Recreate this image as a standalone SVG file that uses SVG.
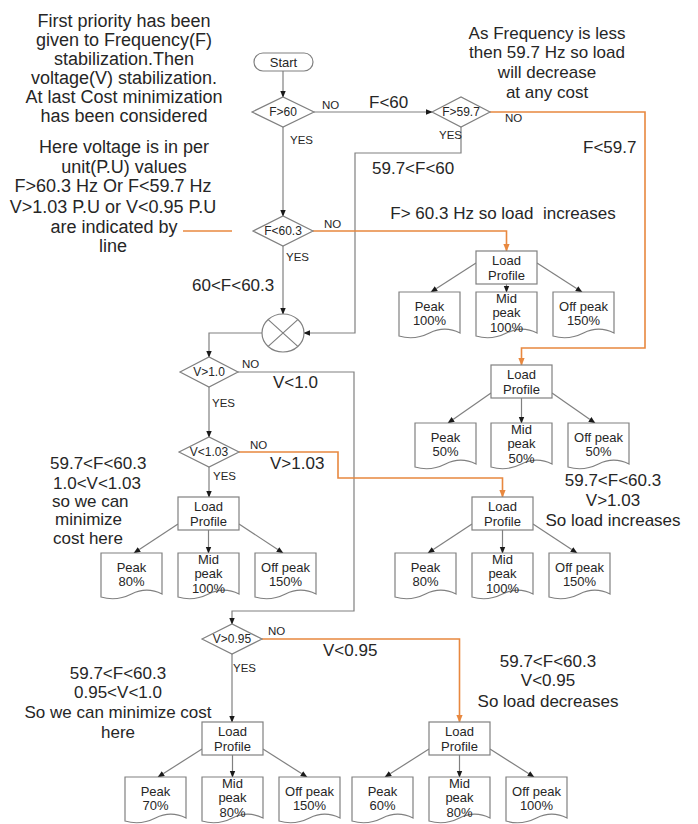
<svg xmlns="http://www.w3.org/2000/svg" width="698" height="824" viewBox="0 0 698 824">
<defs>
<style>
text{font-family:"Liberation Sans",Arial,sans-serif;fill:#262626}
.c{text-anchor:middle}
.big{font-size:18px}
.ann{font-size:17px}
.lbl{font-size:17px}
.sm{font-size:11.5px}
.dt{font-size:12px}
.bt{font-size:13px}
.shape{fill:#fff;stroke:#808080;stroke-width:1.2}
.g{fill:none;stroke:#808080;stroke-width:1.2}
.ga{fill:none;stroke:#808080;stroke-width:1.2;marker-end:url(#ag)}
.oa{fill:none;stroke:#E8883F;stroke-width:1.6;marker-end:url(#ao)}
.o{fill:none;stroke:#E8883F;stroke-width:1.6}
</style>
<marker id="ag" viewBox="0 0 10 10" refX="9" refY="5" markerWidth="7" markerHeight="7" markerUnits="userSpaceOnUse" orient="auto"><path d="M0,1 L10,5 L0,9 z" fill="#1a1a1a"/></marker>
<marker id="ao" viewBox="0 0 10 10" refX="9" refY="5" markerWidth="8" markerHeight="8" markerUnits="userSpaceOnUse" orient="auto"><path d="M0,1 L10,5 L0,9 z" fill="#E8883F"/></marker>
<path id="doc" d="M0,0 h61 v41 c-10,-5 -20.5,-5 -30.5,0 s-20.5,6 -30.5,3 z"/>
</defs>
<rect width="698" height="824" fill="#fff"/>

<g id="notes">
<text class="big c" x="124" y="27">First priority has been</text>
<text class="big c" x="124" y="46">given to Frequency(F)</text>
<text class="big c" x="124" y="65">stabilization.Then</text>
<text class="big c" x="124" y="84">voltage(V) stabilization.</text>
<text class="big c" x="124" y="103">At last Cost minimization</text>
<text class="big c" x="124" y="122">has been considered</text>
<text class="big c" x="124" y="153">Here voltage is in per</text>
<text class="big c" x="124" y="173">unit(P.U) values</text>
<text class="big c" x="113" y="192">F&gt;60.3 Hz Or F&lt;59.7 Hz</text>
<text class="big c" x="113" y="213">V&gt;1.03 P.U or V&lt;0.95 P.U</text>
<text class="big c" x="114" y="233">are indicated by</text>
<text class="big c" x="113" y="252">line</text>
<path class="o" d="M183,231 H232"/>
<text class="ann c" x="547" y="39">As Frequency is less</text>
<text class="ann c" x="547" y="58">then 59.7 Hz so load</text>
<text class="ann c" x="547" y="78">will decrease</text>
<text class="ann c" x="547" y="98">at any cost</text>
<text class="ann c" x="503" y="219" style="white-space:pre">F&gt; 60.3 Hz so load  increases</text>
<text class="ann" x="50" y="469">59.7&lt;F&lt;60.3</text>
<text class="ann" x="53" y="489">1.0&lt;V&lt;1.03</text>
<text class="ann" x="52" y="507">so we can</text>
<text class="ann" x="55" y="525">minimize</text>
<text class="ann" x="53" y="544">cost here</text>
<text class="ann c" x="613" y="486">59.7&lt;F&lt;60.3</text>
<text class="ann c" x="613" y="506">V&gt;1.03</text>
<text class="ann c" x="613" y="526">So load increases</text>
<text class="ann c" x="118" y="679">59.7&lt;F&lt;60.3</text>
<text class="ann c" x="118" y="698">0.95&lt;V&lt;1.0</text>
<text class="ann c" x="118" y="718">So we can minimize cost</text>
<text class="ann c" x="118" y="738">here</text>
<text class="ann c" x="548" y="667">59.7&lt;F&lt;60.3</text>
<text class="ann c" x="548" y="686">V&lt;0.95</text>
<text class="ann c" x="548" y="707">So load decreases</text>
</g>

<g id="connectors">
<path class="ga" d="M283,71 V97"/>
<path class="ga" d="M314,112 H432"/>
<path class="ga" d="M461,127 V153 H355 V333 H304"/>
<path class="oa" d="M490,112 H645 V348 H521.5 V365"/>
<path class="ga" d="M283,127 V216"/>
<path class="oa" d="M313,231 H506.5 V251"/>
<path class="ga" d="M283,246 V314"/>
<path class="ga" d="M262,333 H209 V357"/>
<path class="ga" d="M209,387 V437"/>
<path class="ga" d="M238,372 H354 V611 H232 V624"/>
<path class="oa" d="M239,452 H338 V478 H502.5 V497"/>
<path class="ga" d="M209,467 V497"/>
<path class="ga" d="M232,654 V722"/>
<path class="oa" d="M262,639 H459.5 V722"/>
<path class="ga" d="M476,263 L431,292"/><path class="ga" d="M506.5,284 V292"/><path class="ga" d="M537,263 L582,292"/>
<path class="ga" d="M491,393 L448,423"/><path class="ga" d="M521.5,398 V423"/><path class="ga" d="M552,393 L595,423"/>
<path class="ga" d="M178,524 L134,553"/><path class="ga" d="M208.5,530 V553"/><path class="ga" d="M239,524 L283,553"/>
<path class="ga" d="M472,524 L428,553"/><path class="ga" d="M502.5,530 V553"/><path class="ga" d="M533,524 L577,553"/>
<path class="ga" d="M202,749 L158,777"/><path class="ga" d="M232.5,755 V777"/><path class="ga" d="M263,749 L307,777"/>
<path class="ga" d="M429,749 L385,777"/><path class="ga" d="M459.5,755 V777"/><path class="ga" d="M490,749 L534,777"/>
<text class="sm" x="322" y="109">NO</text>
<text class="lbl" x="369" y="108">F&lt;60</text>
<text class="sm" x="290" y="144">YES</text>
<text class="sm" x="505" y="122">NO</text>
<text class="sm" x="439" y="139">YES</text>
<text class="lbl" x="583" y="153">F&lt;59.7</text>
<text class="lbl" x="372" y="174">59.7&lt;F&lt;60</text>
<text class="sm" x="324" y="228">NO</text>
<text class="sm" x="286" y="261">YES</text>
<text class="lbl" x="192" y="291">60&lt;F&lt;60.3</text>
<text class="sm" x="242" y="368">NO</text>
<text class="lbl" x="273" y="388">V&lt;1.0</text>
<text class="sm" x="212" y="407">YES</text>
<text class="sm" x="250" y="449">NO</text>
<text class="lbl" x="270" y="469">V&gt;1.03</text>
<text class="sm" x="213" y="480">YES</text>
<text class="sm" x="268" y="635">NO</text>
<text class="lbl" x="323" y="656">V&lt;0.95</text>
<text class="sm" x="233" y="672">YES</text>
</g>

<g id="start"><rect class="shape" x="254" y="53" width="59" height="18" rx="9"/><text class="bt c" x="283.5" y="66.5">Start</text></g>
<g id="f60"><polygon class="shape" points="252,112 283,97 314,112 283,127"/><text class="dt c" x="283" y="116">F&gt;60</text></g>
<g id="f597"><polygon class="shape" points="432,112 461,97 490,112 461,127"/><text class="dt c" x="461" y="116">F&gt;59.7</text></g>
<g id="f603"><polygon class="shape" points="253,231 283,216 313,231 283,246"/><text class="dt c" x="283" y="235">F&lt;60.3</text></g>
<g id="junction"><ellipse class="shape" cx="283" cy="333" rx="21" ry="19"/><path class="g" d="M268.2,319.6 L297.8,346.4 M297.8,319.6 L268.2,346.4"/></g>
<g id="v10"><polygon class="shape" points="180,372 209,357 238,372 209,387"/><text class="dt c" x="209" y="376">V&gt;1.0</text></g>
<g id="v103"><polygon class="shape" points="179,452 209,437 239,452 209,467"/><text class="dt c" x="209" y="456">V&lt;1.03</text></g>
<g id="v095"><polygon class="shape" points="202,639 232,624 262,639 232,654"/><text class="dt c" x="232" y="643">V&gt;0.95</text></g>

<g id="lpA">
<rect class="shape" x="476" y="251" width="61" height="33"/><text class="bt c" x="506.5" y="264.5">Load</text><text class="bt c" x="506.5" y="279.5">Profile</text>
<use href="#doc" class="shape" x="399" y="292"/><text class="bt c" x="429.5" y="310.5">Peak</text><text class="bt c" x="429.5" y="325">100%</text>
<use href="#doc" class="shape" x="476" y="292"/><text class="bt c" x="506.5" y="302.5">Mid</text><text class="bt c" x="506.5" y="317">peak</text><text class="bt c" x="506.5" y="331.5">100%</text>
<use href="#doc" class="shape" x="553" y="292"/><text class="bt c" x="583.5" y="310.5">Off peak</text><text class="bt c" x="583.5" y="325">150%</text>
</g>
<g id="lpB">
<rect class="shape" x="491" y="365" width="61" height="33"/><text class="bt c" x="521.5" y="378.5">Load</text><text class="bt c" x="521.5" y="393.5">Profile</text>
<use href="#doc" class="shape" x="415" y="423"/><text class="bt c" x="445.5" y="441.5">Peak</text><text class="bt c" x="445.5" y="456">50%</text>
<use href="#doc" class="shape" x="491" y="423"/><text class="bt c" x="521.5" y="433.5">Mid</text><text class="bt c" x="521.5" y="448">peak</text><text class="bt c" x="521.5" y="462.5">50%</text>
<use href="#doc" class="shape" x="568" y="423"/><text class="bt c" x="598.5" y="441.5">Off peak</text><text class="bt c" x="598.5" y="456">50%</text>
</g>
<g id="lpC">
<rect class="shape" x="178" y="497" width="61" height="33"/><text class="bt c" x="208.5" y="510.5">Load</text><text class="bt c" x="208.5" y="525.5">Profile</text>
<use href="#doc" class="shape" x="101" y="553"/><text class="bt c" x="131.5" y="571.5">Peak</text><text class="bt c" x="131.5" y="586">80%</text>
<use href="#doc" class="shape" x="178" y="553"/><text class="bt c" x="208.5" y="563.5">Mid</text><text class="bt c" x="208.5" y="578">peak</text><text class="bt c" x="208.5" y="592.5">100%</text>
<use href="#doc" class="shape" x="255" y="553"/><text class="bt c" x="285.5" y="571.5">Off peak</text><text class="bt c" x="285.5" y="586">150%</text>
</g>
<g id="lpD">
<rect class="shape" x="472" y="497" width="61" height="33"/><text class="bt c" x="502.5" y="510.5">Load</text><text class="bt c" x="502.5" y="525.5">Profile</text>
<use href="#doc" class="shape" x="395" y="553"/><text class="bt c" x="425.5" y="571.5">Peak</text><text class="bt c" x="425.5" y="586">80%</text>
<use href="#doc" class="shape" x="472" y="553"/><text class="bt c" x="502.5" y="563.5">Mid</text><text class="bt c" x="502.5" y="578">peak</text><text class="bt c" x="502.5" y="592.5">100%</text>
<use href="#doc" class="shape" x="549" y="553"/><text class="bt c" x="579.5" y="571.5">Off peak</text><text class="bt c" x="579.5" y="586">150%</text>
</g>
<g id="lpE">
<rect class="shape" x="202" y="722" width="61" height="33"/><text class="bt c" x="232.5" y="735.5">Load</text><text class="bt c" x="232.5" y="750.5">Profile</text>
<use href="#doc" class="shape" x="125" y="777"/><text class="bt c" x="155.5" y="795.5">Peak</text><text class="bt c" x="155.5" y="810">70%</text>
<use href="#doc" class="shape" x="202" y="777"/><text class="bt c" x="232.5" y="787.5">Mid</text><text class="bt c" x="232.5" y="802">peak</text><text class="bt c" x="232.5" y="816.5">80%</text>
<use href="#doc" class="shape" x="279" y="777"/><text class="bt c" x="309.5" y="795.5">Off peak</text><text class="bt c" x="309.5" y="810">150%</text>
</g>
<g id="lpF">
<rect class="shape" x="429" y="722" width="61" height="33"/><text class="bt c" x="459.5" y="735.5">Load</text><text class="bt c" x="459.5" y="750.5">Profile</text>
<use href="#doc" class="shape" x="352" y="777"/><text class="bt c" x="382.5" y="795.5">Peak</text><text class="bt c" x="382.5" y="810">60%</text>
<use href="#doc" class="shape" x="429" y="777"/><text class="bt c" x="459.5" y="787.5">Mid</text><text class="bt c" x="459.5" y="802">peak</text><text class="bt c" x="459.5" y="816.5">80%</text>
<use href="#doc" class="shape" x="506" y="777"/><text class="bt c" x="536.5" y="795.5">Off peak</text><text class="bt c" x="536.5" y="810">100%</text>
</g>
</svg>
